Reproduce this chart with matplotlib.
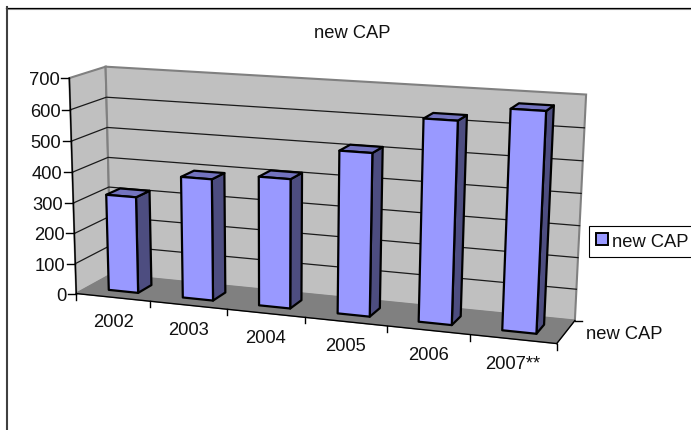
import numpy as np
import matplotlib
matplotlib.use("Agg")
import matplotlib.pyplot as plt
from matplotlib.patches import Polygon, Patch

# data
years = ["2002", "2003", "2004", "2005", "2006", "2007**"]
new_cap = [317, 395, 415, 515, 630, 675]
y_ticks = [0, 100, 200, 300, 400, 500, 600, 700]
series_name = "new CAP"

W, H = 691, 431
Y_MAX = 700

# corners of the 3D box as they land on the image: (x, y, z) -> pixel
box_corners = {
    (0, 0, 0): (77.3, 293.0),
    (0, 1, 0): (68.3, 79.3),
    (0, 0, 1): (110.0, 277.0),
    (0, 1, 1): (106.7, 67.3),
    (1, 0, 0): (556.7, 346.0),
    (1, 0, 1): (575.0, 320.0),
    (1, 1, 1): (586.0, 95.7),
}


def fit_camera(corners):
    # plain DLT, h34 fixed to 1
    A, b = [], []
    for (x, y, z), (u, v) in corners.items():
        A.append([x, y, z, 1, 0, 0, 0, 0, -u * x, -u * y, -u * z])
        A.append([0, 0, 0, 0, x, y, z, 1, -v * x, -v * y, -v * z])
        b += [u, v]
    p = np.linalg.lstsq(np.array(A, float), np.array(b, float), rcond=None)[0]
    return np.append(p, 1.0).reshape(3, 4)


P = fit_camera(box_corners)


def proj(cat, val, depth):
    """category units (0-6), value units, depth 0-1 -> pixel"""
    q = P @ np.array([cat / len(years), val / Y_MAX, depth, 1.0])
    return q[0] / q[2], q[1] / q[2]


plt.rcParams["font.family"] = ["Liberation Sans", "DejaVu Sans"]
fig = plt.figure(figsize=(W / 100, H / 100), dpi=100)
ax = fig.add_axes([0, 0, 1, 1])
ax.set_xlim(0, W)
ax.set_ylim(H, 0)
ax.axis("off")

n = len(years)
FS = 13.2
text_col = "#111111"
wall_col = "#c0c0c0"
floor_col = "#808080"
edge_col = "#808080"

# outer frame
ax.plot([7, W + 5], [9.8, 9.8], color="#999999", lw=0.8)
ax.plot([6, W + 5], [8.6, 8.6], color="black", lw=0.9)
ax.plot([7, 7], [H + 5, 8], color="#404040", lw=1.5)

# walls and floor
ax.add_patch(Polygon([proj(0, 0, 0), proj(0, Y_MAX, 0), proj(0, Y_MAX, 1), proj(0, 0, 1)],
                     fc=wall_col, ec=edge_col, lw=1.5, zorder=1))
ax.add_patch(Polygon([proj(0, 0, 1), proj(0, Y_MAX, 1), proj(n, Y_MAX, 1), proj(n, 0, 1)],
                     fc=wall_col, ec=edge_col, lw=1.5, zorder=1))
ax.add_patch(Polygon([proj(0, 0, 0), proj(0, 0, 1), proj(n, 0, 1), proj(n, 0, 0)],
                     fc=floor_col, ec=floor_col, lw=0.8, zorder=1.5))

# gridlines on both walls
for t in y_ticks[1:-1]:
    pts = [proj(0, t, 0), proj(0, t, 1), proj(n, t, 1)]
    ax.plot(*zip(*pts), color="#1a1a1a", lw=0.9, zorder=2)

# axis lines and ticks
ax.plot(*zip(proj(0, 0, 0), proj(0, Y_MAX, 0)), color="black", lw=1.0, zorder=3)
ax.plot(*zip(proj(0, 0, 0), proj(n, 0, 0)), color="black", lw=1.0, zorder=3)
ax.plot(*zip(proj(n, 0, 0), proj(n, 0, 1)), color="black", lw=1.0, zorder=3)
for t in y_ticks:
    x, y = proj(0, t, 0)
    ax.plot([x - 8, x], [y, y], color="black", lw=1.0, zorder=3)
    ax.text(x - 10, y + 1.5, str(t), ha="right", va="center", fontsize=FS, color=text_col)
for i in range(n + 1):
    x, y = proj(i, 0, 0)
    ax.plot([x, x], [y, y + 6], color="black", lw=1.0, zorder=3)
for i, lab in enumerate(years):
    x, y = proj(i + 0.5, 0, 0)
    ax.text(x, y + 24, lab, ha="center", va="center", fontsize=FS, color=text_col)

# depth axis tick + series label
x, y = proj(n, 0, 1)
ax.plot([x, x + 7], [y, y], color="black", lw=1.0, zorder=3)
ax.text(586, 335, series_name, ha="left", va="center", fontsize=FS, color=text_col)

# bars, far side faces first
front_col = "#9999ff"
top_col = "#7373bf"
side_col = "#4d4d80"
for i, v in enumerate(new_cap):
    x0, x1 = i + 0.3, i + 0.7
    z0, z1 = 0.3, 0.7
    zo = 4 + i
    style = dict(ec="black", lw=1.6, joinstyle="round", zorder=zo)
    ax.add_patch(Polygon([proj(x1, 0, z0), proj(x1, v, z0), proj(x1, v, z1), proj(x1, 0, z1)],
                         fc=side_col, **style))
    ax.add_patch(Polygon([proj(x0, v, z0), proj(x0, v, z1), proj(x1, v, z1), proj(x1, v, z0)],
                         fc=top_col, **style))
    ax.add_patch(Polygon([proj(x0, 0, z0), proj(x0, v, z0), proj(x1, v, z0), proj(x1, 0, z0)],
                         fc=front_col, **style))

ax.text(352, 34, series_name, ha="center", va="center", fontsize=FS, color=text_col)

# legend runs off the right edge in the original
handle = Patch(fc=front_col, ec="black", lw=1.4)
leg = ax.legend([handle], [series_name], loc="upper left",
                bbox_to_anchor=(589.3, 226.7), bbox_transform=ax.transData,
                fontsize=FS, fancybox=False, framealpha=1, edgecolor="black",
                labelcolor=text_col, borderaxespad=0, borderpad=0.38,
                handlelength=0.65, handleheight=0.65, handletextpad=0.22)
leg.get_frame().set_linewidth(0.8)

fig.savefig("out.png", dpi=100)
